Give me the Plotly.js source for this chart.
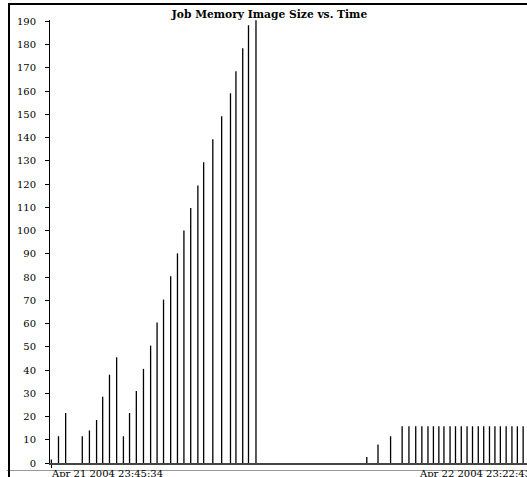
<!DOCTYPE html>
<html>
<head>
<meta charset="utf-8">
<script src="https://cdn.plot.ly/plotly-3.0.1.min.js"></script>
<style>
html, body { margin: 0; padding: 0; overflow: hidden; background: #fff; }
#chart { position: absolute; left: 0; top: 0; width: 545px; height: 477px; }
#frame { position: absolute; left: 8px; top: 3px; width: 700px; height: 700px;
  border-top: 2.5px solid #000; border-left: 2.5px solid #000; pointer-events: none; }
</style>
</head>
<body>
<div id="chart"></div>
<div id="frame"></div>
<script>
// Sample times, minutes after Apr 21 2004 23:45:34
const minutes = [
  0, 21, 42, 91, 112, 133, 151, 171, 192, 212, 230, 250, 271, 292, 311,
  330, 351, 371, 390, 410, 431, 448, 475, 501, 527, 543, 563, 580, 602,
  928, 961, 998,
  1032, 1052, 1072, 1090, 1108, 1124, 1140, 1155, 1173, 1189, 1206,
  1223, 1239, 1256, 1272, 1289, 1305, 1321, 1338, 1355, 1371, 1388
];
// Job memory image size
const imageSize = [
  1.5, 11.5, 21.5, 11.5, 14, 18.5, 28.5, 38, 45.5, 11.5, 21.5, 31, 40.5, 50.5, 60.5,
  70.3, 80.3, 90.2, 100, 109.7, 119.4, 129.4, 139.3, 149.2, 159.1, 168.5, 178.4, 188.3, 190.5,
  2.6, 8, 11.5,
  15.8, 15.8, 15.8, 15.8, 15.8, 15.8, 15.8, 15.8, 15.8, 15.8, 15.8,
  15.8, 15.8, 15.8, 15.8, 15.8, 15.8, 15.8, 15.8, 15.8, 15.8, 15.8
];
const xTickVals = [0, 1417];
const xTickLabels = ["Apr 21 2004 23:45:34", "Apr 22 2004 23:22:43"];
const yTickVals = [0,10,20,30,40,50,60,70,80,90,100,110,120,130,140,150,160,170,180,190];

// needle (impulse) lines built from the data
const nx = [], ny = [];
minutes.forEach((m, i) => { nx.push(m, m, null); ny.push(0, imageSize[i], null); });

const font = { family: "DejaVu Serif, serif", size: 10, color: "#000" };

const trace = {
  type: "scatter", mode: "lines", x: nx, y: ny,
  line: { color: "#000", width: 1.3 }, hoverinfo: "skip", showlegend: false
};

const annotations = xTickLabels.map((t, i) => ({
  x: xTickVals[i], xref: "x", y: 0, yref: "paper",
  text: t, showarrow: false, font: font,
  xanchor: i === 0 ? "left" : "right", yanchor: "top", yshift: -3, xshift: i === 0 ? -2 : 0
}));

const layout = {
  width: 545, height: 477,
  margin: { l: 50, r: 12, t: 20, b: 14, pad: 0 },
  paper_bgcolor: "#fff", plot_bgcolor: "#fff",
  font: font,
  showlegend: false,
  title: {
    text: "<b>Job Memory Image Size vs. Time</b>",
    font: { family: "DejaVu Serif, serif", size: 10.7, color: "#000" },
    x: 0.4945, xref: "container", xanchor: "center",
    y: 1 - 14 / 477, yref: "container", yanchor: "middle"
  },
  xaxis: {
    range: [-4, 1417], showgrid: false, zeroline: false,
    showline: true, linecolor: "#444", linewidth: 1.5,
    ticks: "outside", ticklen: 3, tickcolor: "#000", tickwidth: 1,
    tickvals: xTickVals, showticklabels: false, fixedrange: true
  },
  yaxis: {
    range: [0, 190.6], showgrid: false, zeroline: false,
    showline: true, linecolor: "#000", linewidth: 1,
    ticks: "outside", ticklen: 4, tickcolor: "#000", tickwidth: 1,
    tickvals: yTickVals, ticktext: yTickVals.map(String),
    ticklabelstandoff: 7, tickfont: font, fixedrange: true
  },
  annotations: annotations,
  shapes: [{
    type: "line", xref: "paper", yref: "paper",
    x0: -0.09, x1: 1.2, y0: -7.5 / 443, y1: -7.5 / 443,
    line: { color: "#999", width: 1 }, layer: "below"
  }]
};

Plotly.newPlot("chart", [trace], layout, { staticPlot: true, displayModeBar: false });
</script>
</body>
</html>
